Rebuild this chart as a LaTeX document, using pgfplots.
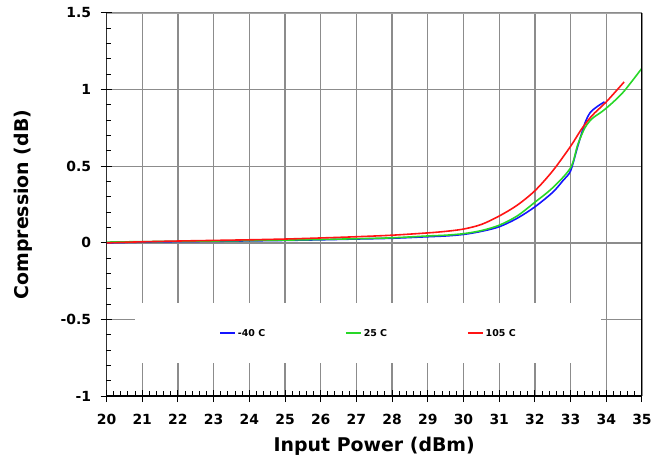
\documentclass[border=0pt]{standalone}
\usepackage{pgfplots}
\pgfplotsset{compat=1.18}
\usepackage{fontspec}
\setmainfont{DejaVu Sans}
\definecolor{cblue}{RGB}{20,20,255}
\definecolor{cgreen}{RGB}{40,215,40}
\definecolor{cred}{RGB}{255,20,20}
\begin{document}
\begin{tikzpicture}
\path (-107pt,-63pt) rectangle (548pt,398pt);
\begin{axis}[
  at={(0,0)}, anchor=south west,
  scale only axis, width=538pt, height=385pt,
  xmin=20, xmax=35, ymin=-1, ymax=1.5,
  xtick={20,21,...,35}, ytick={-1,-0.5,0,0.5,1,1.5},
  minor x tick num=4, minor y tick num=4,
  yticklabels={-1,-0.5,0,0.5,1,1.5},
  xtick pos=left, ytick pos=left,
  /pgf/number format/assume math mode=true,
  ticklabel style={font=\bfseries\fontsize{14}{14}\selectfont},
  xticklabel style={yshift=-15pt},
  yticklabel style={xshift=-12pt},
  grid=major,
  major grid style={black!45, line width=1.4pt},
  tick align=inside, major tick length=6pt, minor tick length=5pt,
  tick style={black, line width=1pt},
  extra x ticks={20,21,...,35}, extra y ticks={-1,-0.5,0,0.5,1,1.5},
  extra x tick labels={}, extra y tick labels={},
  extra tick style={tick align=outside, major tick length=6pt, grid=none},
  axis line style={draw=none},
  xlabel={Input Power (dBm)}, ylabel={Compression (dB)},
  label style={font=\bfseries\fontsize{19}{19}\selectfont},
  xlabel style={yshift=1pt},
  ylabel style={yshift=15pt},
  legend columns=3,
  legend style={at={(rel axis cs:0.489,0.164)}, anchor=center, draw=none, fill=white,
    inner xsep=84pt, inner ysep=24pt,
    font=\bfseries\fontsize{9.5}{9.5}\selectfont,
    /tikz/every even column/.append style={column sep=78pt}},
  legend image code/.code={\draw[#1, line width=2pt] (0pt,0pt) -- (15pt,0pt);},
]
\addplot[cblue, line width=1.6pt, smooth] coordinates {
(20,0) (21,0.005) (22,0.008) (23,0.01) (24,0.013) (25,0.016) (26,0.02) (27,0.025)
(28,0.03) (29,0.04) (29.5,0.045) (30,0.055) (30.5,0.075) (31,0.105) (31.5,0.16)
(32,0.235) (32.5,0.33) (32.8,0.41) (33,0.47) (33.2,0.63) (33.4,0.78) (33.55,0.85)
(33.75,0.89) (33.95,0.92)};
\addlegendentry{-40 C}
\addplot[cgreen, line width=1.6pt, smooth] coordinates {
(20,0.005) (21,0.008) (22,0.01) (23,0.012) (24,0.015) (25,0.018) (26,0.022) (27,0.027)
(28,0.033) (29,0.045) (29.5,0.05) (30,0.06) (30.5,0.08) (31,0.115) (31.5,0.175)
(32,0.265) (32.5,0.36) (33,0.49) (33.2,0.64) (33.4,0.75) (33.6,0.81) (33.9,0.86)
(34.2,0.92) (34.5,0.99) (35,1.14)};
\addlegendentry{25 C}
\addplot[cred, line width=1.6pt, smooth] coordinates {
(20,0) (21,0.007) (22,0.012) (23,0.016) (24,0.02) (25,0.025) (26,0.032) (27,0.04)
(28,0.05) (29,0.065) (29.5,0.075) (30,0.09) (30.5,0.12) (31,0.175) (31.5,0.245)
(32,0.34) (32.5,0.47) (33,0.63) (33.3,0.74) (33.6,0.83) (34,0.92) (34.5,1.05)};
\addlegendentry{105 C}
\draw[gray!70, line width=0.8pt] (rel axis cs:0,1) -- (rel axis cs:1,1);
\draw[black, line width=1.2pt] (rel axis cs:0,0) -- (rel axis cs:0,1);
\draw[black, line width=1.8pt] (rel axis cs:0,0) -- (rel axis cs:1,0);
\draw[black, line width=1.8pt] (rel axis cs:1,0) -- (rel axis cs:1,1);
\end{axis}
\end{tikzpicture}
\end{document}
